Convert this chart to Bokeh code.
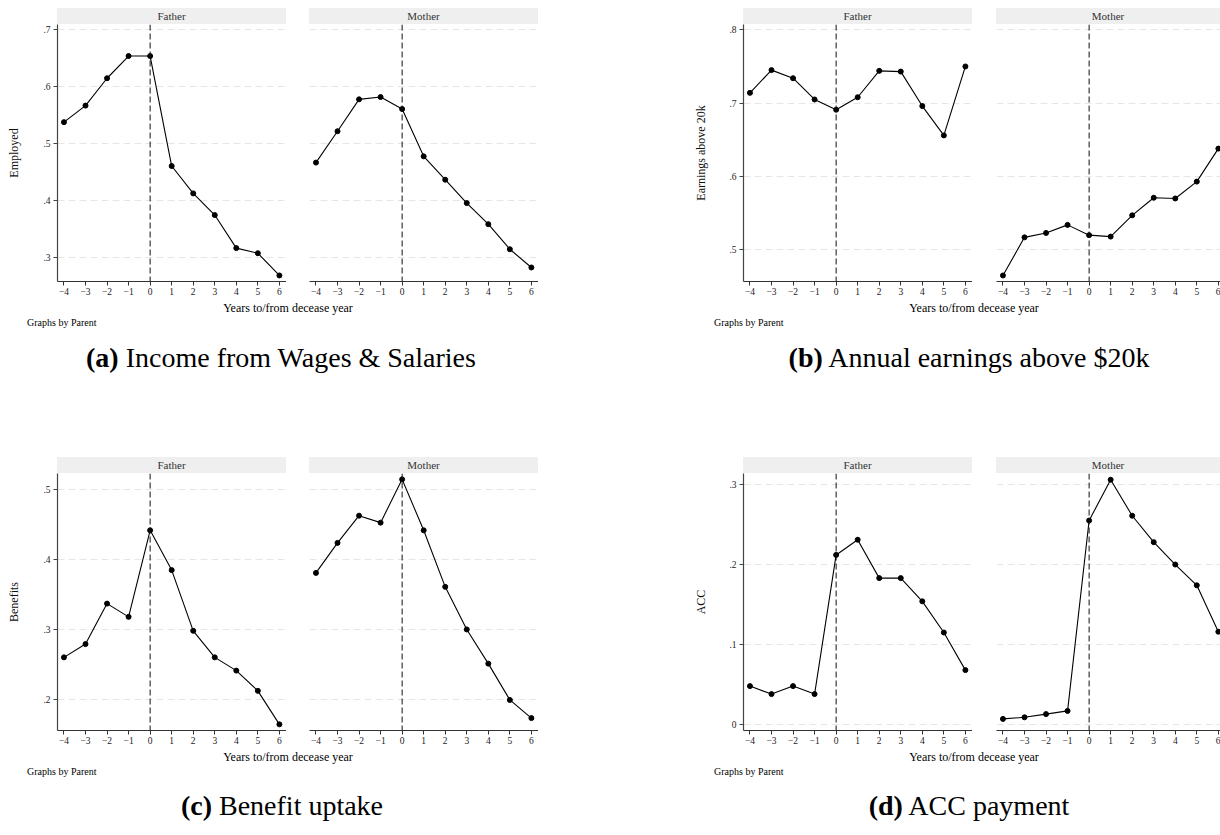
from bokeh.plotting import figure
from bokeh.layouts import row, column
from bokeh.models import Div, Spacer, Span, FixedTicker, CustomJSTickFormatter, Range1d
from bokeh.embed import file_html
from bokeh.resources import INLINE

# ---------------- data ----------------
years = [-4, -3, -2, -1, 0, 1, 2, 3, 4, 5, 6]
facet_names = ["Father", "Mother"]

emp_father = [0.538, 0.567, 0.615, 0.654, 0.654, 0.461, 0.413, 0.375, 0.317, 0.308, 0.269]
emp_mother = [0.467, 0.522, 0.578, 0.582, 0.561, 0.478, 0.437, 0.396, 0.359, 0.315, 0.283]

earn_father = [0.714, 0.745, 0.734, 0.705, 0.691, 0.708, 0.744, 0.743, 0.696, 0.656, 0.750]
earn_mother = [0.465, 0.517, 0.523, 0.534, 0.520, 0.518, 0.547, 0.571, 0.570, 0.593, 0.638]

ben_father = [0.260, 0.279, 0.337, 0.318, 0.442, 0.385, 0.298, 0.260, 0.241, 0.212, 0.164]
ben_mother = [0.381, 0.424, 0.463, 0.453, 0.515, 0.442, 0.361, 0.300, 0.251, 0.199, 0.173]

acc_father = [0.048, 0.038, 0.048, 0.038, 0.212, 0.231, 0.183, 0.183, 0.154, 0.115, 0.068]
acc_mother = [0.007, 0.009, 0.013, 0.017, 0.255, 0.306, 0.261, 0.228, 0.200, 0.174, 0.116]

emp_ticks = [0.3, 0.4, 0.5, 0.6, 0.7]
earn_ticks = [0.5, 0.6, 0.7, 0.8]
ben_ticks = [0.2, 0.3, 0.4, 0.5]
acc_ticks = [0.0, 0.1, 0.2, 0.3]

x_title = "Years to/from decease year"
note = "Graphs by Parent"
captions = [("(a)", "Income from Wages &amp; Salaries"),
            ("(b)", "Annual earnings above $20k"),
            ("(c)", "Benefit uptake"),
            ("(d)", "ACC payment")]
y_titles = ["Employed", "Earnings above 20k", "Benefits", "ACC"]

# ---------------- style ----------------
SERIF = "Liberation Serif"
FRAME_H = 257
FACET_W = 229

yfmt_code = """
if (Math.abs(tick) < 1e-9) { return "0"; }
var s = tick.toFixed(1);
return s.replace(/^0\\./, ".").replace(/^-0\\./, "-.");
"""


def sp(w=0, h=0):
    return Spacer(width=w, height=h, margin=0)


def text_div(html, width, height, size, align="center", color="#000", bg=None):
    inner = ("font-family:'%s';font-size:%spx;line-height:%dpx;text-align:%s;color:%s;"
             "white-space:nowrap;width:%dpx;height:%dpx;" % (SERIF, size, height, align, color, width, height))
    if bg:
        inner += "background-color:%s;" % bg
    return Div(text='<div style="%s">%s</div>' % (inner, html), width=width, height=height,
               margin=0, disable_math=True,
               styles={"font-family": SERIF, "font-size": "%spx" % size, "line-height": "%dpx" % height,
                       "text-align": align, "color": color})


def facet(yv, xr, yr, fw, left, yticks, ylabel=None, lab_so=19):
    p = figure(frame_width=fw, frame_height=FRAME_H,
               x_range=Range1d(*xr), y_range=Range1d(*yr),
               title=None, toolbar_location=None, output_backend="svg",
               y_axis_location="left" if ylabel else None,
               min_border=0, min_border_left=left, min_border_right=0,
               min_border_top=0, min_border_bottom=18, margin=0)
    p.outline_line_color = None
    p.background_fill_color = "white"
    p.border_fill_color = "white"
    p.xgrid.visible = False
    p.ygrid.ticker = FixedTicker(ticks=yticks)
    p.ygrid.grid_line_color = "#e6e6e6"
    p.ygrid.grid_line_dash = "7 4"
    p.ygrid.grid_line_width = 1

    xa = p.xaxis[0]
    xa.ticker = FixedTicker(ticks=years)
    xa.axis_line_color = "#333333"
    xa.major_tick_line_color = "#333333"
    xa.major_tick_out = 4
    xa.major_tick_in = 0
    xa.minor_tick_out = 0
    xa.minor_tick_in = 0
    xa.major_label_text_font = SERIF
    xa.major_label_text_font_size = "9.5px"
    xa.major_label_text_color = "#222222"
    xa.major_label_standoff = 2

    if ylabel:
        ya = p.yaxis[0]
        ya.ticker = FixedTicker(ticks=yticks)
        ya.formatter = CustomJSTickFormatter(code=yfmt_code)
        ya.axis_line_color = "#444444"
        ya.axis_line_width = 1.2
        ya.major_tick_line_color = "#444444"
        ya.major_tick_out = 4
        ya.major_tick_in = 0
        ya.minor_tick_out = 0
        ya.minor_tick_in = 0
        ya.major_label_text_font = SERIF
        ya.major_label_text_font_size = "9.5px"
        ya.major_label_text_color = "#222222"
        ya.major_label_standoff = 3
        ya.axis_label = ylabel
        ya.axis_label_text_font = SERIF
        ya.axis_label_text_font_size = "12px"
        ya.axis_label_text_font_style = "normal"
        ya.axis_label_text_color = "#111111"
        ya.axis_label_standoff = lab_so

    p.add_layout(Span(location=0, dimension="height", line_color="#111111",
                      line_dash="6 3", line_width=1))
    p.line(years, yv, line_color="black", line_width=1.1)
    p.scatter(years, yv, size=5, fill_color="black", line_color="black")
    return p


def panel(father, mother, yr, yticks, ylabel, cap, left, gap, mw, mxr, lab_so,
          years_c, graphs_l, cap_c, top_pad, cap_h, total_w):
    strips = row(sp(w=left), text_div(facet_names[0], FACET_W, 16, 11, color="#333", bg="#efefef"),
                 sp(w=gap), text_div(facet_names[1], mw, 16, 11, color="#333", bg="#efefef"),
                 spacing=0, margin=0)
    pf = facet(father, (-4.3, 6.33), yr, FACET_W, left, yticks, ylabel, lab_so)
    pm = facet(mother, mxr, yr, mw, gap, yticks, None)
    figs = row(pf, pm, spacing=0, margin=0)
    xt = row(sp(w=years_c - 100), text_div(x_title, 200, 18, 12), spacing=0, margin=0)
    gn = row(sp(w=graphs_l), text_div(note, 150, 12, 10, align="left"), spacing=0, margin=0)
    cp = row(sp(w=cap_c - 250),
             text_div("<b>%s</b> %s" % cap, 500, cap_h, 28), spacing=0, margin=0)
    return [sp(w=total_w, h=top_pad), strips, figs, xt, gn, cp]


colA = column(
    *panel(emp_father, emp_mother, (0.2584, 0.7093), emp_ticks, y_titles[0], captions[0],
           57, 23, FACET_W, (-4.3, 6.33), 19, 288, 27, 281, 8, 58, 680),
    *panel(ben_father, ben_mother, (0.1552, 0.5234), ben_ticks, y_titles[2], captions[2],
           57, 23, FACET_W, (-4.3, 6.33), 19, 288, 27, 282, 70, 56, 680),
    spacing=0, margin=0)

colB = column(
    *panel(earn_father, earn_mother, (0.4568, 0.8072), earn_ticks, y_titles[1], captions[1],
           63, 24, 224, (-4.3, 6.1), 18, 294, 34, 289, 8, 58, 540),
    *panel(acc_father, acc_mother, (-0.0075, 0.3138), acc_ticks, y_titles[3], captions[3],
           63, 24, 224, (-4.3, 6.1), 18, 294, 34, 289, 70, 56, 540),
    spacing=0, margin=0)

layout = row(colA, colB, spacing=0, margin=0)

with open("out.html", "w") as f:
    f.write(file_html(layout, INLINE, title="Parent death outcomes"))
